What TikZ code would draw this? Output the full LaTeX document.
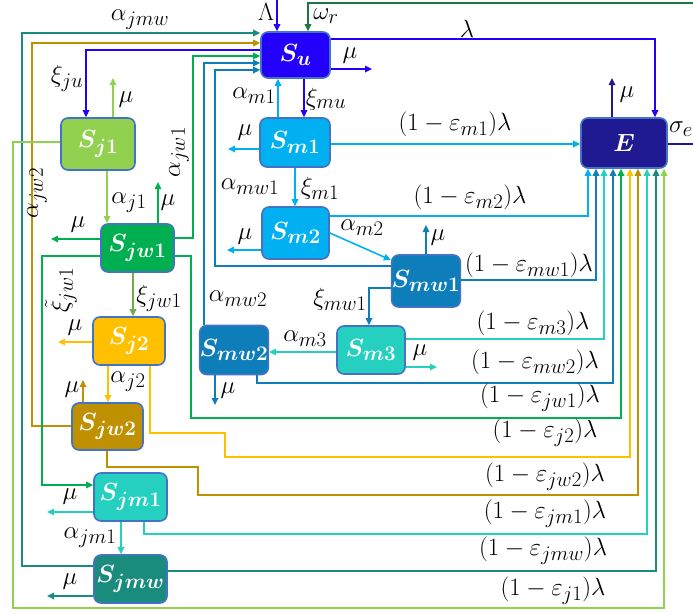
\documentclass[tikz,border=0pt]{standalone}
\usetikzlibrary{arrows.meta}
\definecolor{cSu}{RGB}{34,0,250}
\definecolor{cSm}{RGB}{0,176,240}
\definecolor{cE}{RGB}{31,26,145}
\definecolor{cj1}{RGB}{146,208,80}
\definecolor{cjw1}{RGB}{0,176,80}
\definecolor{cmw}{RGB}{14,126,186}
\definecolor{cm3}{RGB}{38,208,192}
\definecolor{cj2}{RGB}{255,192,0}
\definecolor{cjw2}{RGB}{191,144,0}
\definecolor{cjmw}{RGB}{26,140,126}
\definecolor{cwr}{RGB}{30,120,60}
\definecolor{cxi}{RGB}{112,173,71}
\definecolor{cBd}{RGB}{68,114,196}
\tikzset{
  lab/.style={font=\Huge, inner sep=0pt},
  box/.style={draw=cBd, line width=1.6pt, rounded corners=7pt, inner sep=0pt,
    font=\Huge\boldmath, text=white},
  arr/.style={line width=1.6pt, -{Triangle[length=7pt,width=6.5pt]}},
  ln/.style={line width=1.6pt},
}
\begin{document}
\begin{tikzpicture}[x=1pt,y=-1pt]
\useasboundingbox[fill=white] (0,0) rectangle (693,614);
% nodes
\node[box, fill=cSu,  minimum width=69, minimum height=46] (Su)   at (295.5,55)  {$S_{u}$};
\node[box, fill=cSm,  minimum width=70, minimum height=49] (Sm1)  at (295,142.5) {$S_{m1}$};
\node[box, fill=cE,   minimum width=86, minimum height=50] (E)    at (624,143)   {$E$};
\node[box, fill=cj1,  minimum width=74, minimum height=52] (Sj1)  at (98,144)    {$S_{j1}$};
\node[box, fill=cjw1, minimum width=73, minimum height=48] (Sjw1) at (137.5,248) {$S_{jw1}$};
\node[box, fill=cSm,  minimum width=67, minimum height=52] (Sm2)  at (295.5,233) {$S_{m2}$};
\node[box, fill=cmw,  minimum width=68, minimum height=52] (Smw1) at (426,281)   {$S_{mw1}$};
\node[box, fill=cmw,  minimum width=68, minimum height=49] (Smw2) at (234,350)   {$S_{mw2}$};
\node[box, fill=cm3,  minimum width=68, minimum height=48] (Sm3)  at (371,350)   {$S_{m3}$};
\node[box, fill=cj2,  minimum width=72, minimum height=48] (Sj2)  at (129,341)   {$S_{j2}$};
\node[box, fill=cjw2, minimum width=71, minimum height=47] (Sjw2) at (107.5,426.5) {$S_{jw2}$};
\node[box, fill=cm3,  minimum width=73, minimum height=48] (Sjm1) at (130.5,497) {$S_{jm1}$};
\node[box, fill=cjmw, minimum width=73, minimum height=48] (Sjmw) at (130.5,579) {$S_{jmw}$};
% free ends
\coordinate (Ltop) at (277,0);
\coordinate (Wtop) at (693,3);
\coordinate (Sout) at (693,144);
% S_u connectors
\draw[arr,cSu] (Ltop) -- (Ltop |- Su.north);
\draw[arr,cwr] (Wtop) -- (308,3) -- (Su.north -| 308,0);
\draw[arr,cSu] (Su.east |- 0,39) -- (655,39) -- (E.north -| 655,0);
\draw[arr,cSu] (Su.east |- 0,69) -- (372,69);
\draw[arr,cSu] (Su.south -| 304,0) -- (Sm1.north -| 304,0);
\draw[arr,cSm] (Sm1.north -| 278,0) -- (Su.south -| 278,0);
\draw[arr,cSu] (Su.west |- 0,50) -- (86,50) -- (Sj1.north -| 86,0);
\draw[arr,cjmw] (Sjmw.west |- 0,566) -- (22,566) -- (22,33) -- (Su.west |- 0,33);
\draw[arr,cjw2] (Sjw2.west |- 0,426) -- (32,426) -- (32,43) -- (Su.west |- 0,43);
\draw[arr,cjw1] (Sjw1.east |- 0,238) -- (193,238) -- (193,56) -- (Su.west |- 0,56);
\draw[arr,cmw] (Smw2.north -| 204,0) -- (204,63) -- (Su.west |- 0,63);
\draw[arr,cmw] (Smw1.west |- 0,266) -- (215,266) -- (215,70) -- (Su.west |- 0,70);
% S_m1
\draw[arr,cSm] (Sm1.west |- 0,149) -- (228,149);
\draw[arr,cSm] (Sm1.east |- 0,144) -- (E.west |- 0,144);
\draw[arr,cSm] (Sm1.south -| 295,0) -- (Sm2.north -| 295,0);
% E
\draw[arr,cE] (E.north -| 612,0) -- (612,78);
\draw[ln,cE] (E.east |- 0,144) -- (Sout);
% S_m2
\draw[arr,cSm] (Sm2.west |- 0,250) -- (227,250);
\draw[arr,cSm] (Sm2.east |- 0,216) -- (588,216) -- (E.south -| 588,0);
\draw[arr,cSm] (Sm2.east |- 0,233) -- (Smw1.west |- 0,260);
% S_mw1
\draw[arr,cmw] (Smw1.north -| 426,0) -- (426,225);
\draw[arr,cmw] (Smw1.east |- 0,280) -- (596,280) -- (E.south -| 596,0);
\draw[arr,cmw] (Smw1.west |- 0,288) -- (369,288) -- (Sm3.north -| 369,0);
% S_m3
\draw[arr,cm3] (Sm3.west |- 0,352) -- (Smw2.east |- 0,352);
\draw[arr,cm3] (Sm3.east |- 0,367) -- (437,367);
\draw[arr,cm3] (Sm3.east |- 0,339) -- (604,339) -- (E.south -| 604,0);
% S_mw2
\draw[arr,cmw] (Smw2.south -| 215,0) -- (215,405);
\draw[arr,cmw] (Smw2.south -| 257,0) -- (257,383) -- (613,383) -- (E.south -| 613,0);
% juvenile to E
\draw[arr,cjw1] (Sjw1.east |- 0,256) -- (191,256) -- (191,418) -- (621,418) -- (E.south -| 621,0);
\draw[arr,cj2] (Sj2.south -| 150,0) -- (150,433) -- (225,433) -- (225,457) -- (630,457) -- (E.south -| 630,0);
\draw[arr,cjw2] (Sjw2.south -| 107,0) -- (107,467) -- (198,467) -- (198,495) -- (638,495) -- (E.south -| 638,0);
\draw[arr,cm3] (Sjm1.south -| 144,0) -- (144,534) -- (647,534) -- (E.south -| 647,0);
\draw[arr,cjmw] (Sjmw.east |- 0,571) -- (656,571) -- (E.south -| 656,0);
\draw[arr,cj1] (Sj1.west |- 0,142) -- (13,142) -- (13,608) -- (664,608) -- (E.south -| 664,0);
% juvenile chain
\draw[arr,cj1] (Sj1.south -| 107,0) -- (Sjw1.north -| 107,0);
\draw[arr,cj1] (Sj1.north -| 113,0) -- (113,78);
\draw[arr,cjw1] (Sjw1.north -| 158,0) -- (158,182);
\draw[arr,cjw1] (Sjw1.west |- 0,239) -- (51,239);
\draw[arr,cxi] (Sjw1.south -| 133,0) -- (Sj2.north -| 133,0);
\draw[arr,cjw1] (Sjw1.west |- 0,256) -- (42,256) -- (42,485) -- (Sjm1.west |- 0,485);
\draw[arr,cj2] (Sj2.west |- 0,342) -- (58,342);
\draw[arr,cj2] (Sj2.south -| 108,0) -- (Sjw2.north -| 108,0);
\draw[arr,cjw2] (Sjw2.north -| 83,0) -- (83,380);
\draw[arr,cm3] (Sjm1.west |- 0,512) -- (47,512);
\draw[arr,cm3] (Sjm1.south -| 121,0) -- (Sjmw.north -| 121,0);
\draw[arr,cjmw] (Sjmw.west |- 0,596) -- (47,596);
% labels
\node[lab] at (140,20) {$\alpha_{jmw}$};
\node[lab] at (266,12) {$\Lambda$};
\node[lab] at (326,16) {$\omega_r$};
\node[lab] at (467,29) {$\lambda$};
\node[lab] at (350,56) {$\mu$};
\node[lab] at (67,78) {$\xi_{ju}$};
\node[lab] at (126,100) {$\mu$};
\node[lab] at (254,96) {$\alpha_{m1}$};
\node[lab] at (326,99) {$\xi_{mu}$};
\node[lab] at (627,95) {$\mu$};
\node[lab] at (681,129) {$\sigma_e$};
\node[lab] at (455,124) {$(1-\varepsilon_{m1})\lambda$};
\node[lab] at (245,133) {$\mu$};
\node[lab,rotate=90] at (179,152) {$\alpha_{jw1}$};
\node[lab,rotate=90] at (37,193) {$\alpha_{jw2}$};
\node[lab] at (250,187) {$\alpha_{mw1}$};
\node[lab] at (320,188) {$\xi_{m1}$};
\node[lab] at (129,203) {$\alpha_{j1}$};
\node[lab] at (168,203) {$\mu$};
\node[lab] at (78,225) {$\mu$};
\node[lab] at (470,197) {$(1-\varepsilon_{m2})\lambda$};
\node[lab] at (245,237) {$\mu$};
\node[lab] at (362,228) {$\alpha_{m2}$};
\node[lab] at (438,238) {$\mu$};
\node[lab] at (529,265) {$(1-\varepsilon_{mw1})\lambda$};
\node[lab] at (159,298) {$\xi_{jw1}$};
\node[lab,rotate=90] at (61,290) {$\tilde{\xi}_{jw1}$};
\node[lab] at (238,299) {$\alpha_{mw2}$};
\node[lab] at (340,299) {$\xi_{mw1}$};
\node[lab] at (533,323) {$(1-\varepsilon_{m3})\lambda$};
\node[lab] at (75,328) {$\mu$};
\node[lab] at (305,339) {$\alpha_{m3}$};
\node[lab] at (420,353) {$\mu$};
\node[lab] at (535,362) {$(1-\varepsilon_{mw2})\lambda$};
\node[lab] at (72,390) {$\mu$};
\node[lab] at (128,382) {$\alpha_{j2}$};
\node[lab] at (228,391) {$\mu$};
\node[lab] at (540,398) {$(1-\varepsilon_{jw1})\lambda$};
\node[lab] at (545,433) {$(1-\varepsilon_{j2})\lambda$};
\node[lab] at (545,477) {$(1-\varepsilon_{jw2})\lambda$};
\node[lab] at (545,514) {$(1-\varepsilon_{jm1})\lambda$};
\node[lab] at (70,497) {$\mu$};
\node[lab] at (90,538) {$\alpha_{jm1}$};
\node[lab] at (543,551) {$(1-\varepsilon_{jmw})\lambda$};
\node[lab] at (70,582) {$\mu$};
\node[lab] at (553,591) {$(1-\varepsilon_{j1})\lambda$};
\end{tikzpicture}
\end{document}
